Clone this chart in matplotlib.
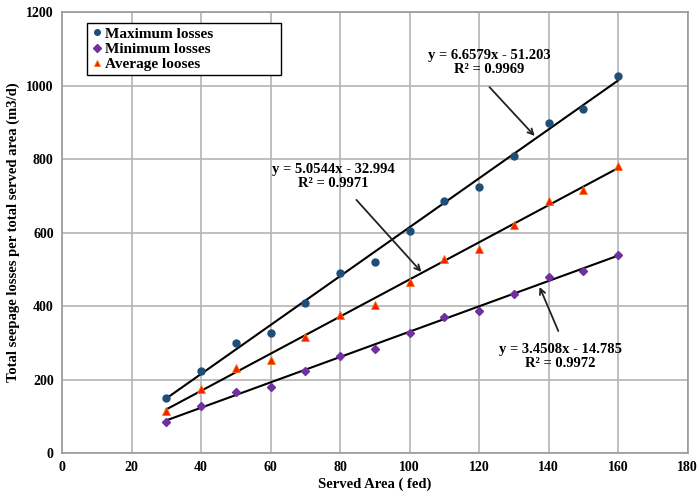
import matplotlib
matplotlib.use("Agg")
import matplotlib.pyplot as plt
import numpy as np

area = [30, 40, 50, 60, 70, 80, 90, 100, 110, 120, 130, 140, 150, 160]
max_losses = [150, 222, 300, 326, 407, 489, 519, 604, 687, 724, 809, 897, 936, 1027]
min_losses = [85, 127, 167, 180, 224, 264, 283, 327, 370, 387, 432, 478, 495, 539]
avg_losses = [114, 174, 231, 252, 316, 377, 402, 465, 529, 555, 622, 686, 715, 782]

# trend line coefficients (slope, intercept, r2)
fit_max = (6.6579, -51.203, 0.9969)
fit_min = (3.4508, -14.785, 0.9972)
fit_avg = (5.0544, -32.994, 0.9971)

plt.rcParams["font.family"] = ["Liberation Serif", "DejaVu Serif"]
plt.rcParams["font.weight"] = "bold"

fig = plt.figure(figsize=(6.99, 4.97), dpi=100)
ax = fig.add_axes([0.0887, 0.0885, 0.895, 0.887])

ax.plot(area, max_losses, "o", color="#1F4E79", ms=5, label="Maximum losses", zorder=3)
ax.plot(area, min_losses, "D", color="#7030A0", ms=4.5, label="Minimum losses", zorder=3)
ax.plot(area, avg_losses, "^", color="#FF1A00", mec="#E87A10", mew=0.6, ms=6,
        label="Average looses", zorder=3)

x_fit = np.array([area[0], area[-1]])
for slope, icpt, _ in (fit_max, fit_min, fit_avg):
    ax.plot(x_fit, slope * x_fit + icpt, color="black", lw=1.5, zorder=2)


def eq_text(fit):
    slope, icpt, r2 = fit
    return f"y = {slope:.4f}x - {abs(icpt):.3f}\nR\u00b2 = {r2:.4f}"


arrow = dict(arrowstyle="->", color="#222222", lw=1.3, shrinkA=0, shrinkB=0)
# (text position, arrow tail, arrow head)
labels = [
    (fit_max, (123, 1063), (123, 996), (136, 863)),
    (fit_avg, (78, 752), (84.7, 689), (103.4, 493)),
    (fit_min, (143.5, 262), (142.8, 332), (137.4, 452)),
]
for fit, txt_pos, tail, head in labels:
    ax.text(*txt_pos, eq_text(fit), ha="center", va="center", fontsize=10.5,
            fontweight="bold", linespacing=1.1)
    ax.annotate("", xy=head, xytext=tail, arrowprops=arrow)

ax.set_xlim(0, 180)
ax.set_ylim(0, 1200)
ax.set_xticks(range(0, 181, 20))
ax.set_yticks(range(0, 1201, 200))
ax.tick_params(length=0, labelsize=10, pad=6)
for lbl in ax.get_xticklabels() + ax.get_yticklabels():
    lbl.set_fontweight("bold")
ax.grid(True, color="#B4B4B4", lw=1.2)
ax.set_axisbelow(True)
for s in ax.spines.values():
    s.set_color("#999999")
    s.set_linewidth(1.2)

ax.set_xlabel("Served Area ( fed)", fontsize=10.5, fontweight="bold", labelpad=2)
ax.set_ylabel("Total seepage losses per total served area (m3/d)", fontsize=10.5,
              fontweight="bold", labelpad=4)

leg = ax.legend(loc="upper left", bbox_to_anchor=(0.04, 0.975, 0.31, 0.0), mode="expand",
                prop={"weight": "bold", "size": 11}, handletextpad=0.1, handlelength=0.8,
                markerscale=0.8, borderpad=0.25, labelspacing=0.1, fancybox=False,
                framealpha=1, borderaxespad=0)
leg.get_frame().set_edgecolor("black")
leg.get_frame().set_linewidth(1.0)

fig.savefig("out.png", dpi=100)
